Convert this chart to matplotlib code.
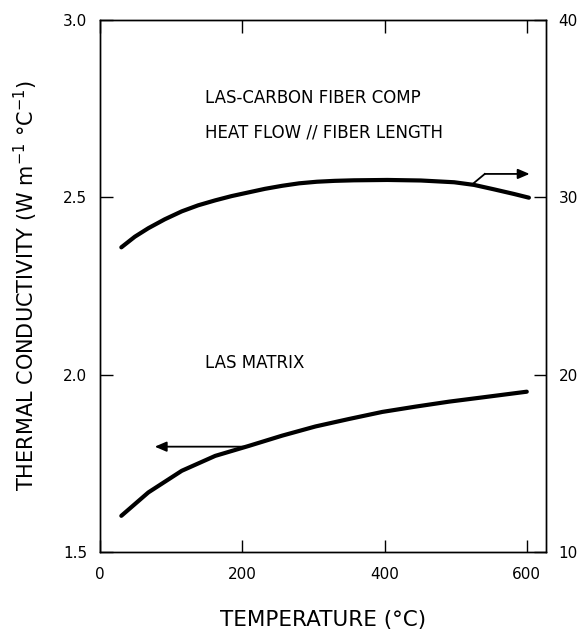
import matplotlib
matplotlib.use("Agg")
import matplotlib.pyplot as plt

# LAS-carbon fiber composite, heat flow parallel to fibers (right axis)
comp_T = [30, 49, 68, 91, 115, 138, 162, 185, 209, 232, 256, 280, 305, 330,
          357, 404, 451, 498, 526, 554, 582, 603]
comp_k = [27.18, 27.78, 28.26, 28.76, 29.21, 29.55, 29.83, 30.07, 30.28, 30.48,
          30.65, 30.79, 30.88, 30.93, 30.96, 30.98, 30.95, 30.85, 30.70, 30.45,
          30.19, 29.98]

# LAS matrix (left axis)
mat_T = [30, 68, 115, 162, 209, 256, 303, 350, 397, 444, 491, 538, 600]
mat_k = [1.602, 1.668, 1.729, 1.771, 1.799, 1.828, 1.854, 1.875, 1.895, 1.910,
         1.924, 1.936, 1.952]

x_ticks = [0, 200, 400, 600]
left_ticks = [1.5, 2.0, 2.5, 3.0]
left_labels = ["1.5", "2.0", "2.5", "3.0"]
right_ticks = [10, 20, 30, 40]
right_labels = ["10", "20", "30", "40"]

plt.rcParams["font.family"] = ["DejaVu Sans"]

fig = plt.figure(figsize=(5.82, 6.31), dpi=100)
ax = fig.add_axes([0.1718, 0.1252, 0.9381 - 0.1718, 0.9683 - 0.1252])
ax2 = ax.twinx()

ax.set_xlim(0, 627)
ax.set_ylim(1.5, 3.0)
ax2.set_ylim(10, 40)

line_kw = dict(color="black", lw=3.0, solid_capstyle="round", solid_joinstyle="round")
ax.plot(mat_T, mat_k, **line_kw)
ax2.plot(comp_T, comp_k, **line_kw)

for a in (ax, ax2):
    for s in a.spines.values():
        s.set_linewidth(1.0)

ax.set_xticks(x_ticks)
ax.set_xticklabels([str(t) for t in x_ticks])
ax.set_yticks(left_ticks)
ax.set_yticklabels(left_labels)
ax.tick_params(axis="x", direction="in", length=9, width=1.0, top=True, pad=11, labelsize=11)
ax.tick_params(axis="y", direction="in", length=9, width=1.0, right=False, pad=9, labelsize=11)

ax2.set_yticks(right_ticks)
ax2.set_yticklabels(right_labels)
ax2.tick_params(axis="y", direction="in", length=9, width=1.0, pad=9, labelsize=11)

ax.set_xlabel("TEMPERATURE (°C)", fontsize=15.5, labelpad=20)
ax.set_ylabel(r"THERMAL CONDUCTIVITY (W m$^{-1}$ °C$^{-1}$)", fontsize=15, labelpad=17)

ax.text(148, 2.78, "LAS-CARBON FIBER COMP", fontsize=12, ha="left", va="center")
ax.text(148, 2.684, "HEAT FLOW // FIBER LENGTH", fontsize=12, ha="left", va="center")
ax.text(148, 2.034, "LAS MATRIX", fontsize=12, ha="left", va="center")

arrow_kw = dict(arrowstyle="-|>,head_length=0.7,head_width=0.3",
                color="black", lw=1.3, shrinkA=0, shrinkB=0)

# arrow pointing from the matrix curve to the left axis
ax.annotate("", xy=(77, 1.797), xytext=(207, 1.797), arrowprops=arrow_kw)

# kinked arrow pointing from the composite curve to the right axis
ax2.plot([523, 541], [30.72, 31.32], color="black", lw=1.3)
ax2.annotate("", xy=(604, 31.32), xytext=(541, 31.32), arrowprops=arrow_kw)

fig.savefig("out.png", dpi=100)
